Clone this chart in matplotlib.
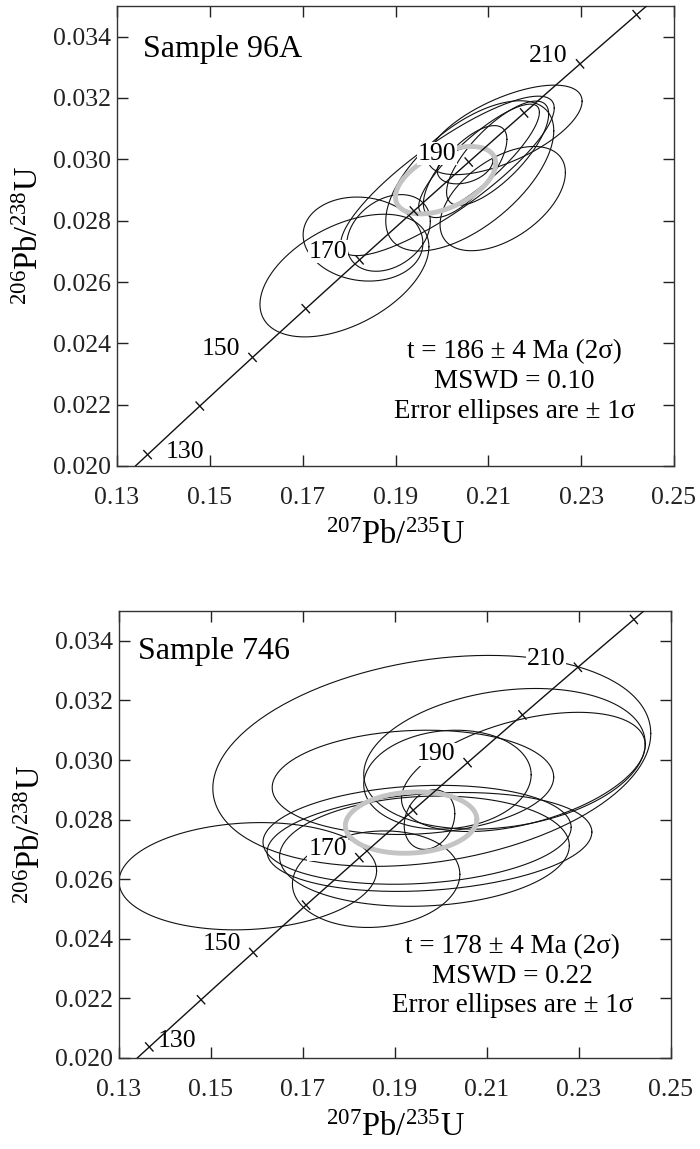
import numpy as np
import matplotlib
matplotlib.use('Agg')
import matplotlib.pyplot as plt

plt.rcParams['font.family'] = ['Liberation Serif', 'DejaVu Serif']
plt.rcParams['mathtext.fontset'] = 'custom'
plt.rcParams['mathtext.rm'] = 'Liberation Serif'
plt.rcParams['mathtext.it'] = 'Liberation Serif:italic'

# decay constants (per Ma)
LAMBDA_238 = 1.55125e-4
LAMBDA_235 = 9.8485e-4

tick_ages = [130, 140, 150, 160, 170, 180, 190, 200, 210, 220]
label_ages = [130, 150, 170, 190, 210]
x_ticks = [0.13, 0.15, 0.17, 0.19, 0.21, 0.23, 0.25]
y_ticks = [0.020, 0.022, 0.024, 0.026, 0.028, 0.030, 0.032, 0.034]

# ---- Sample 96A ellipses: centre x, centre y, sigma x, sigma y, rho
a_cx = [0.1790, 0.1830, 0.1885, 0.2012, 0.2136, 0.2131, 0.2060, 0.2050, 0.2080, 0.2120, 0.2050]
a_cy = [0.02621, 0.02740, 0.02760, 0.02946, 0.03096, 0.02872, 0.02946, 0.02960, 0.03000, 0.03020, 0.02980]
a_sx = [0.0182, 0.0129, 0.0090, 0.0230, 0.0166, 0.0135, 0.0181, 0.0090, 0.0130, 0.0110, 0.0060]
a_sy = [0.00200, 0.00137, 0.00125, 0.00260, 0.00146, 0.00170, 0.00245, 0.00150, 0.00180, 0.00170, 0.00060]
a_rho = [0.47, -0.10, 0.30, 0.85, 0.64, 0.50, 0.60, 0.70, 0.85, 0.75, 0.30]
a_mean = (0.2008, 0.02932, 0.0108, 0.00110, 0.50)

# ---- Sample 746 ellipses
b_cx = [0.1980, 0.1580, 0.2138, 0.2179, 0.1939, 0.2014, 0.1948, 0.1975, 0.1964, 0.1859, 0.1975]
b_cy = [0.02997, 0.02610, 0.03004, 0.02960, 0.02925, 0.02934, 0.02749, 0.02725, 0.02694, 0.02600, 0.02800]
b_sx = [0.0476, 0.0280, 0.0306, 0.0265, 0.0306, 0.0182, 0.0335, 0.0353, 0.0315, 0.0182, 0.0055]
b_sy = [0.00354, 0.00180, 0.00236, 0.00200, 0.00175, 0.00166, 0.00166, 0.00166, 0.00185, 0.00162, 0.00100]
b_rho = [0.26, 0.10, 0.22, 0.45, 0.10, 0.10, 0.15, 0.20, 0.10, 0.10, 0.20]
b_mean = (0.1935, 0.02790, 0.0143, 0.00103, 0.10)

samples = ['Sample 96A', 'Sample 746']
sample_pos = [(0.047, 0.905), (0.035, 0.910)]
label130_offset = [(13, 2), (6, 4)]
stats = [['t = 186 ± 4 Ma (2σ)', 'MSWD = 0.10', 'Error ellipses are ± 1σ'],
         ['t = 178 ± 4 Ma (2σ)', 'MSWD = 0.22', 'Error ellipses are ± 1σ']]

fig = plt.figure(figsize=(7.0, 11.49), dpi=100)
ax_a = fig.add_axes([117/700, 1 - 466/1149, 557/700, 460/1149])
ax_b = fig.add_axes([119/700, 1 - 1058/1149, 552/700, 447/1149])


def ellipse_xy(cx, cy, sx, sy, rho, n=240):
    t = np.linspace(0, 2 * np.pi, n)
    x = cx + sx * np.cos(t)
    y = cy + sy * (rho * np.cos(t) + np.sqrt(1 - rho ** 2) * np.sin(t))
    return x, y


def draw_panel(ax, cx, cy, sx, sy, rho, mean, sample, spos, off130, lines):
    ax.set_xlim(0.13, 0.25)
    ax.set_ylim(0.020, 0.035)
    ax.set_xticks(x_ticks)
    ax.set_xticklabels(['%.2f' % v for v in x_ticks])
    ax.set_yticks(y_ticks)
    ax.set_yticklabels(['%.3f' % v for v in y_ticks])
    ax.tick_params(direction='in', top=True, right=True, length=8, width=1,
                   labelsize=18.5, colors='#222222')
    ax.tick_params(axis='x', pad=15)
    ax.tick_params(axis='y', pad=4)
    for s in ax.spines.values():
        s.set_linewidth(1.0)
        s.set_color('#333333')

    for i in range(len(cx)):
        x, y = ellipse_xy(cx[i], cy[i], sx[i], sy[i], rho[i])
        ax.plot(x, y, color='#111111', lw=0.8, zorder=2)
    x, y = ellipse_xy(*mean)
    ax.plot(x, y, color='#c4c4c4', lw=3.5, zorder=3, solid_capstyle='round')

    # concordia
    ages = np.linspace(100, 240, 300)
    cxv = np.exp(LAMBDA_235 * ages) - 1
    cyv = np.exp(LAMBDA_238 * ages) - 1
    ax.plot(cxv, cyv, color='#111111', lw=1.0, zorder=5)

    fig.canvas.draw()
    trans = ax.transData
    for age in tick_ages:
        px, py = np.exp(LAMBDA_235 * age) - 1, np.exp(LAMBDA_238 * age) - 1
        p0 = trans.transform((px, py))
        p1 = trans.transform((np.exp(LAMBDA_235 * (age + 1)) - 1,
                              np.exp(LAMBDA_238 * (age + 1)) - 1))
        d = (p1 - p0) / np.hypot(*(p1 - p0))
        nrm = np.array([-d[1], d[0]]) * 5.5
        seg = trans.inverted().transform([p0 - nrm, p0 + nrm])
        ax.plot(seg[:, 0], seg[:, 1], color='#111111', lw=1.0, zorder=5)
        if age in label_ages:
            if age == 130:
                ax.annotate(str(age), (px, py), xytext=off130, textcoords='offset points',
                            ha='left', va='center', fontsize=18.5, zorder=4,
                            bbox=dict(facecolor='white', edgecolor='none', pad=0.5))
            else:
                ax.annotate(str(age), (px, py), xytext=(-9, 6), textcoords='offset points',
                            ha='right', va='center', fontsize=18.5, zorder=4,
                            bbox=dict(facecolor='white', edgecolor='none', pad=0.5))

    ax.text(spos[0], spos[1], sample, transform=ax.transAxes, fontsize=23,
            ha='left', va='center', zorder=6)
    for k, ln in enumerate(lines):
        ax.text(0.2156, 0.02373 - k * 0.00098, ln, fontsize=19.5, ha='center',
                va='center', zorder=6)
    ax.set_xlabel(r'$^{207}$Pb/$^{235}$U', fontsize=23.5, labelpad=8)
    ax.set_ylabel(r'$^{206}$Pb/$^{238}$U', fontsize=23.5, labelpad=6)


draw_panel(ax_a, a_cx, a_cy, a_sx, a_sy, a_rho, a_mean, samples[0], sample_pos[0],
           label130_offset[0], stats[0])
draw_panel(ax_b, b_cx, b_cy, b_sx, b_sy, b_rho, b_mean, samples[1], sample_pos[1],
           label130_offset[1], stats[1])

fig.savefig('out.png', dpi=100)
